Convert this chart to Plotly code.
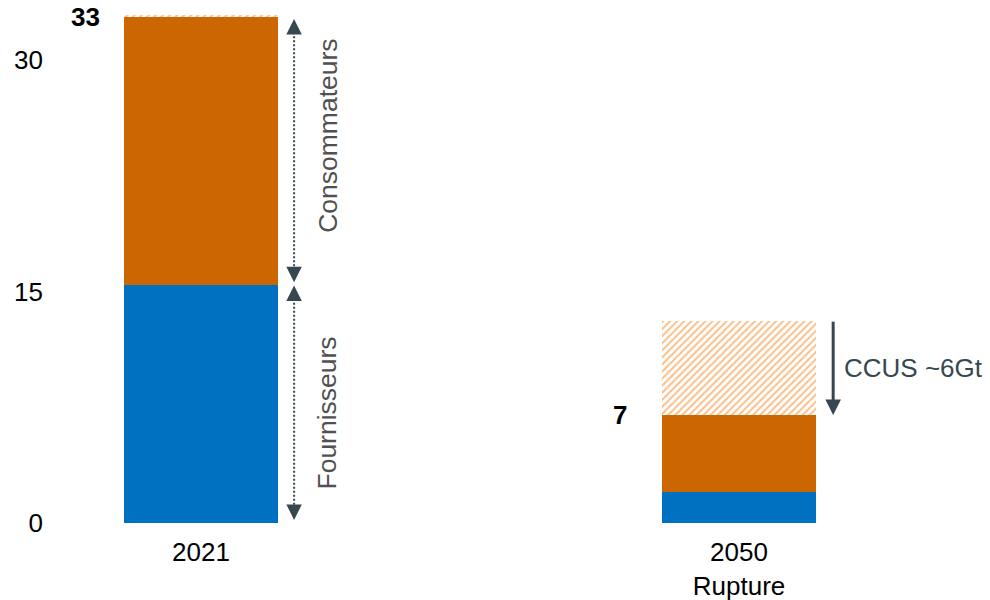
import plotly.graph_objects as go

# ---- data ----
categories = ["2021", "2050<br>Rupture"]
fournisseurs = [15.4, 2.0]
consommateurs = [17.4, 5.0]
ccus = [0.1, 6.1]
total_labels = ["33", "7"]
y_ticks = [0, 15, 30]
ccus_label = "CCUS ~6Gt"
seg_labels = ["Consommateurs", "Fournisseurs"]

# ---- styles ----
BLUE = "#0070C0"
ORANGE = "#CC6600"
HATCH = "#FBBE88"
DARK = "#37474F"
FONT = "Liberation Sans, Arial, sans-serif"

x_pos = [0, 1]
solid_tot = [f + c for f, c in zip(fournisseurs, consommateurs)]
full_tot = [s + h for s, h in zip(solid_tot, ccus)]

fig = go.Figure()
fig.add_trace(go.Bar(x=x_pos, y=fournisseurs, marker=dict(color=BLUE, line=dict(width=0)),
                     width=0.286, hoverinfo="skip"))
fig.add_trace(go.Bar(x=x_pos, y=consommateurs, marker=dict(color=ORANGE, line=dict(width=0)),
                     width=0.286, hoverinfo="skip"))
fig.add_trace(go.Bar(x=x_pos, y=ccus,
                     marker=dict(color="white", line=dict(width=0),
                                 pattern=dict(shape="/", fgcolor=HATCH, bgcolor="white",
                                              size=5, solidity=0.4, fillmode="replace")),
                     width=0.286, hoverinfo="skip"))

# ---- bracket arrows for 2021 ----
ax21 = x_pos[0] + 0.173
b = fournisseurs[0]
top_tip = solid_tot[0] - 0.14
cons_dn = b + 0.2
four_up = b
four_dn = 0.2
inset = 0.6
fig.add_trace(go.Scatter(x=[ax21, ax21], y=[top_tip - inset, cons_dn + inset], mode="lines",
                         line=dict(color=DARK, width=2, dash="2px,2px"), hoverinfo="skip"))
fig.add_trace(go.Scatter(x=[ax21, ax21], y=[four_up - inset, four_dn + inset], mode="lines",
                         line=dict(color=DARK, width=2, dash="2px,2px"), hoverinfo="skip"))
fig.add_trace(go.Scatter(x=[ax21, ax21], y=[top_tip, four_up], mode="markers",
                         marker=dict(symbol="arrow-up", size=15.5, color=DARK, line=dict(width=0)),
                         hoverinfo="skip"))
fig.add_trace(go.Scatter(x=[ax21, ax21], y=[cons_dn, four_dn], mode="markers",
                         marker=dict(symbol="arrow-down", size=15.5, color=DARK, line=dict(width=0)),
                         hoverinfo="skip"))

# ---- CCUS arrow for 2050 ----
ax50 = x_pos[1] + 0.175
fig.add_trace(go.Scatter(x=[ax50, ax50], y=[full_tot[1] - 0.05, solid_tot[1] + inset], mode="lines",
                         line=dict(color=DARK, width=3), hoverinfo="skip"))
fig.add_trace(go.Scatter(x=[ax50], y=[solid_tot[1]], mode="markers",
                         marker=dict(symbol="arrow-down", size=15.5, color=DARK, line=dict(width=0)),
                         hoverinfo="skip"))

annotations = [
    dict(x=x_pos[0] - 0.143, y=solid_tot[0], text="<b>" + total_labels[0] + "</b>", showarrow=False,
         xanchor="right", yanchor="middle", xshift=-22, font=dict(size=26, color="black", family=FONT)),
    dict(x=x_pos[1] - 0.143, y=solid_tot[1], text="<b>" + total_labels[1] + "</b>", showarrow=False,
         xanchor="right", yanchor="middle", xshift=-33, font=dict(size=26, color="black", family=FONT)),
    dict(x=ax21, y=25.1, text=seg_labels[0], textangle=-90, showarrow=False, xshift=34,
         xanchor="center", yanchor="middle", font=dict(size=26.5, color="#505050", family=FONT)),
    dict(x=ax21, y=7.1, text=seg_labels[1], textangle=-90, showarrow=False, xshift=33,
         xanchor="center", yanchor="middle", font=dict(size=26.5, color="#505050", family=FONT)),
    dict(x=ax50, y=10.05, text=ccus_label, showarrow=False, xanchor="left", yanchor="middle",
         xshift=9, font=dict(size=26, color=DARK, family=FONT)),
]

fig.update_layout(
    width=982, height=592,
    barmode="stack", showlegend=False,
    plot_bgcolor="white", paper_bgcolor="white",
    margin=dict(l=54, r=50, t=2, b=77, autoexpand=False),
    font=dict(family=FONT, size=26, color="black"),
    annotations=annotations,
    xaxis=dict(range=[-0.2584, 1.3736], tickvals=x_pos, ticktext=categories,
               showgrid=False, zeroline=False, showline=False, ticks="", automargin=False,
               tickfont=dict(size=26, color="black"), ticklabelstandoff=11),
    yaxis=dict(range=[0, 33.25], tickvals=y_ticks, showgrid=False, zeroline=False,
               showline=False, ticks="", automargin=False, tickfont=dict(size=26, color="black"),
               ticklabelstandoff=18),
)

fig.write_html("out.html")
